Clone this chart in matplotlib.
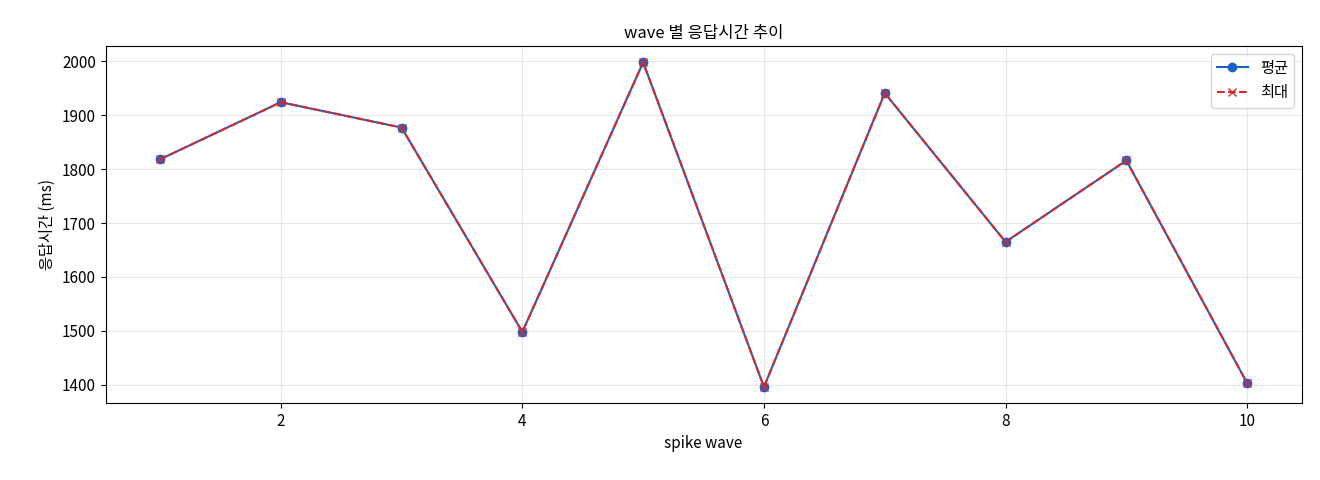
import matplotlib
matplotlib.use("Agg")
import matplotlib.pyplot as plt

plt.rcParams['font.family'] = ['Noto Sans CJK KR', 'DejaVu Sans']
plt.rcParams['axes.unicode_minus'] = False
plt.rcParams['font.size'] = 11

waves = [1, 2, 3, 4, 5, 6, 7, 8, 9, 10]
avg_ms = [1818, 1924, 1877, 1498, 1998, 1396, 1941, 1665, 1816, 1403]
max_ms = [1818, 1924, 1877, 1498, 1998, 1396, 1941, 1665, 1816, 1403]

fig, ax = plt.subplots(figsize=(13.2, 4.8), dpi=100)
ax.plot(waves, avg_ms, marker='o', color='#1a63c4', linewidth=1.5, markersize=6, label='평균')
ax.plot(waves, max_ms, marker='x', linestyle='--', color='#d42a2e', linewidth=1.5, markersize=6, label='최대')
ax.set_title('wave 별 응답시간 추이', fontsize=12)
ax.set_xlabel('spike wave')
ax.set_ylabel('응답시간 (ms)')
ax.grid(True, alpha=0.3)
ax.legend(loc='upper right')
plt.subplots_adjust(left=0.08, right=0.986, top=0.904, bottom=0.16)
plt.savefig('out.png')
